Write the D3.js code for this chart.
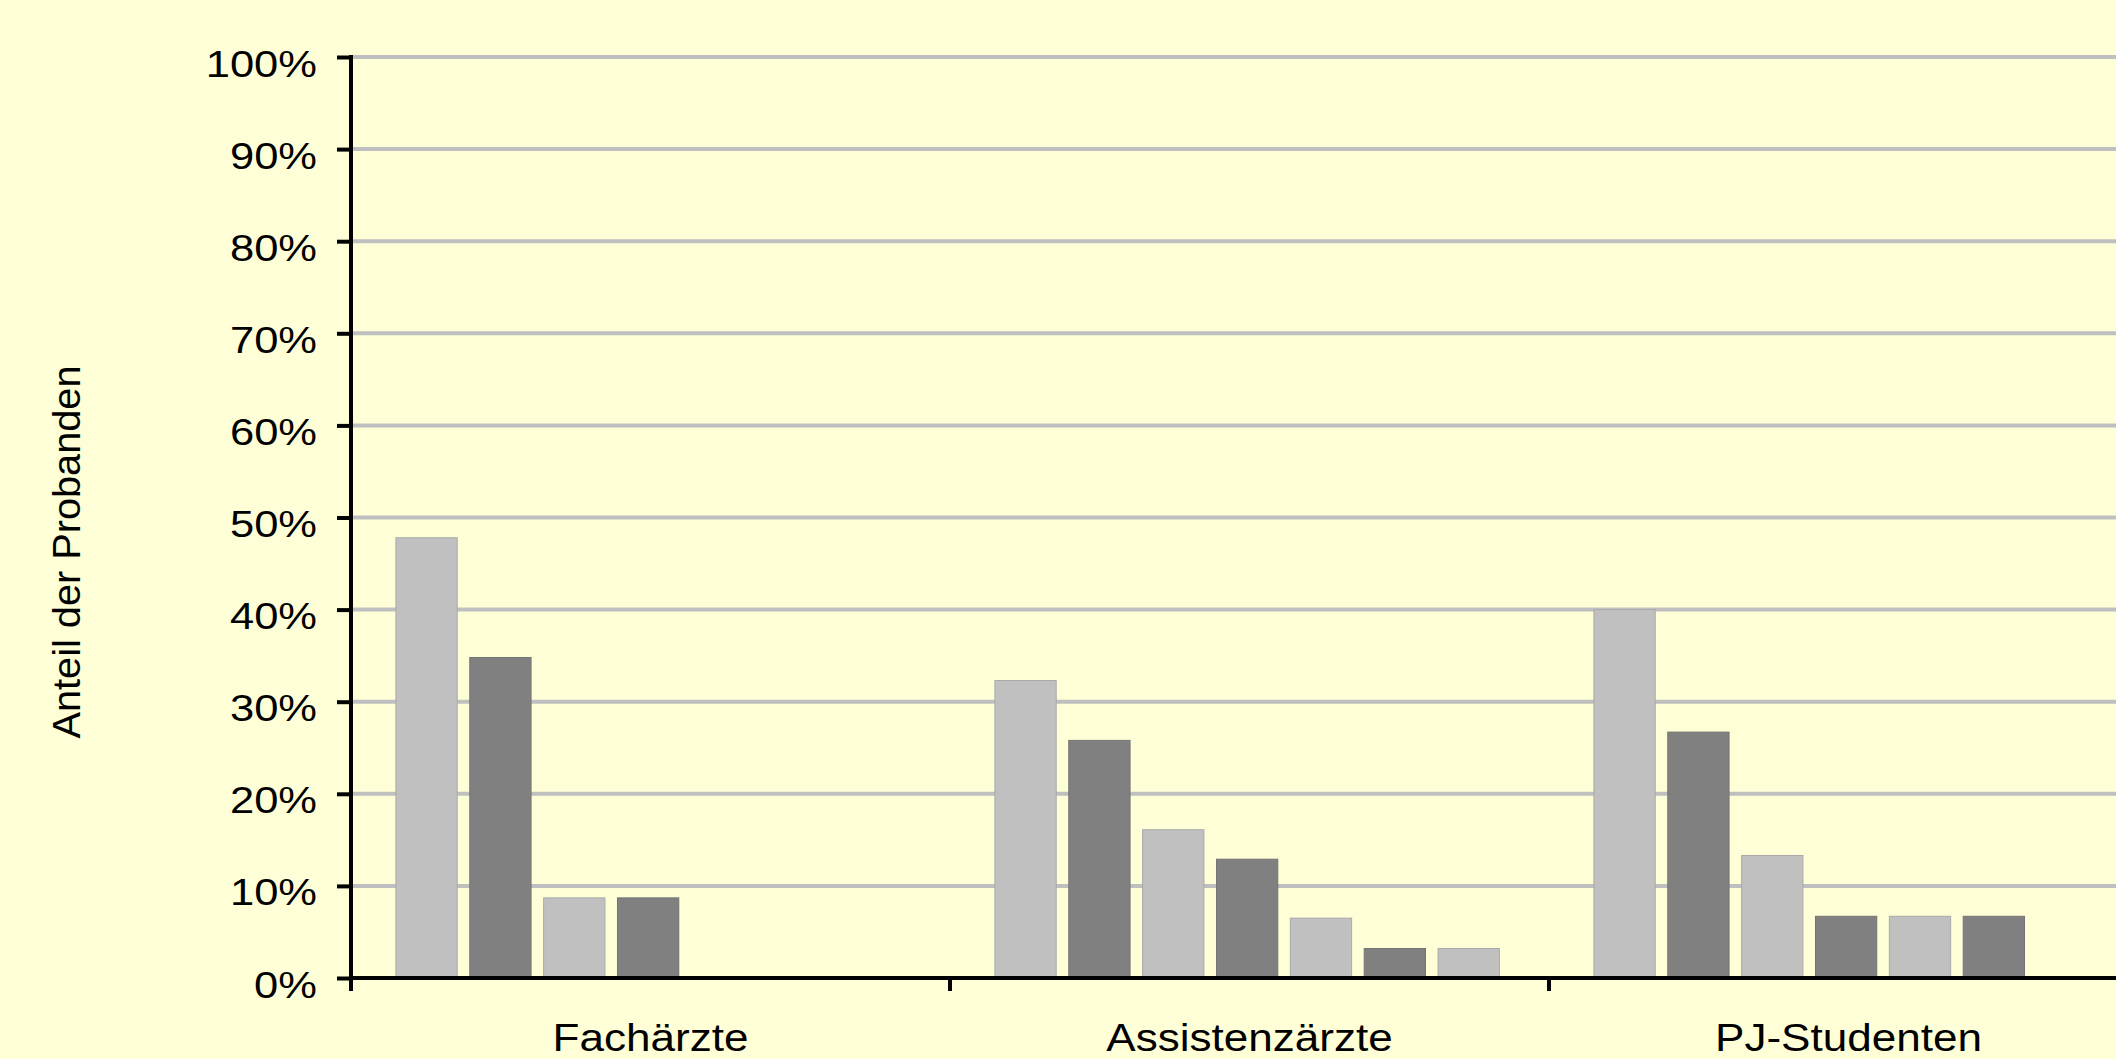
<!DOCTYPE html>
<html>
<head>
<meta charset="utf-8">
<script src="https://cdn.jsdelivr.net/npm/d3@7"></script>
<style>
  html, body { margin: 0; padding: 0; background: #ffffd7; overflow: hidden; }
  svg { display: block; }
  text { font-family: "Liberation Sans", Arial, sans-serif; fill: #000; }
</style>
</head>
<body>
<script>
// ---- data ----
const categories = ["Fachärzte", "Assistenzärzte", "PJ-Studenten"];
const valuesFachaerzte = [47.8, 34.8, 8.7, 8.7];
const valuesAssistenzaerzte = [32.3, 25.8, 16.1, 12.9, 6.5, 3.2, 3.2];
const valuesPJStudenten = [40.0, 26.7, 13.3, 6.7, 6.7, 6.7];
const seriesSlots = ["1", "2", "3", "4", "5", "6", "7"];
const yTickValues = [0, 10, 20, 30, 40, 50, 60, 70, 80, 90, 100];
const yTitle = "Anteil der Probanden";

const groups = [
  { cat: categories[0], values: valuesFachaerzte },
  { cat: categories[1], values: valuesAssistenzaerzte },
  { cat: categories[2], values: valuesPJStudenten }
];

// ---- layout ----
const W = 2116, H = 1059;
const plotLeft = 351, plotTop = 57, plotBottom = 978;
const bandW = 599;
const textScaleX = 1.16;

const svg = d3.select("body").append("svg").attr("width", W).attr("height", H);
svg.append("rect").attr("width", W).attr("height", H).attr("fill", "#ffffd7");

const x = d3.scaleBand().domain(categories)
  .range([plotLeft, plotLeft + bandW * categories.length]).padding(0);
const xi = d3.scaleBand().domain(seriesSlots).range([0, x.bandwidth()])
  .paddingInner(0.17).paddingOuter(0.64).align(0.475);
const y = d3.scaleLinear().domain([0, 100]).range([plotBottom, plotTop]);

// gridlines
svg.append("g").selectAll("line").data(yTickValues.filter(d => d > 0)).join("line")
  .attr("x1", plotLeft).attr("x2", W)
  .attr("y1", d => y(d)).attr("y2", d => y(d))
  .attr("stroke", "#bfbfbf").attr("stroke-width", 4);

// bars
const lightFill = "#c0c0c0", darkFill = "#808080";
const gBars = svg.append("g");
groups.forEach(g => {
  gBars.append("g").attr("transform", `translate(${x(g.cat)},0)`)
    .selectAll("rect").data(g.values).join("rect")
    .attr("x", (d, i) => xi(seriesSlots[i]))
    .attr("width", xi.bandwidth())
    .attr("y", d => y(d))
    .attr("height", d => y(0) - y(d))
    .attr("fill", (d, i) => i % 2 === 0 ? lightFill : darkFill)
    .attr("stroke", (d, i) => i % 2 === 0 ? "#a9a9a9" : "#747474")
    .attr("stroke-width", 1);
});

// y axis
const yAxis = d3.axisLeft(y).tickValues(yTickValues).tickSize(14).tickPadding(0)
  .tickFormat(d => d + "%");
const gy = svg.append("g").attr("transform", `translate(${plotLeft},0)`).call(yAxis);
gy.select(".domain").remove();
gy.selectAll(".tick line").attr("stroke", "#000").attr("stroke-width", 4);
gy.selectAll(".tick text")
  .attr("x", 0).attr("dy", null).attr("y", 0)
  .attr("transform", `translate(-34,19) scale(${textScaleX},1)`)
  .style("font-size", "37.5px")
  .attr("font-family", null);
svg.append("line").attr("x1", plotLeft).attr("x2", plotLeft)
  .attr("y1", plotTop - 2).attr("y2", plotBottom + 13)
  .attr("stroke", "#000").attr("stroke-width", 4);

// x axis
svg.append("line").attr("x1", plotLeft).attr("x2", W)
  .attr("y1", plotBottom).attr("y2", plotBottom)
  .attr("stroke", "#000").attr("stroke-width", 4);
const boundaries = categories.map(c => x(c)).concat([x(categories[categories.length - 1]) + x.bandwidth()]);
svg.append("g").selectAll("line").data(boundaries.slice(1)).join("line")
  .attr("x1", d => d).attr("x2", d => d)
  .attr("y1", plotBottom).attr("y2", plotBottom + 13)
  .attr("stroke", "#000").attr("stroke-width", 4);

const xAxis = d3.axisBottom(x).tickSize(0).tickPadding(0);
const gx = svg.append("g").attr("transform", `translate(0,${plotBottom})`).call(xAxis);
gx.select(".domain").remove();
gx.selectAll(".tick text")
  .attr("y", 0).attr("dy", null)
  .attr("transform", `translate(0,73) scale(${textScaleX},1)`)
  .style("font-size", "38px")
  .attr("font-family", null);

// y title
svg.append("text")
  .attr("transform", `translate(80,552) rotate(-90) scale(1.045,1)`)
  .attr("text-anchor", "middle")
  .style("font-size", "38px")
  .text(yTitle);
</script>
</body>
</html>
